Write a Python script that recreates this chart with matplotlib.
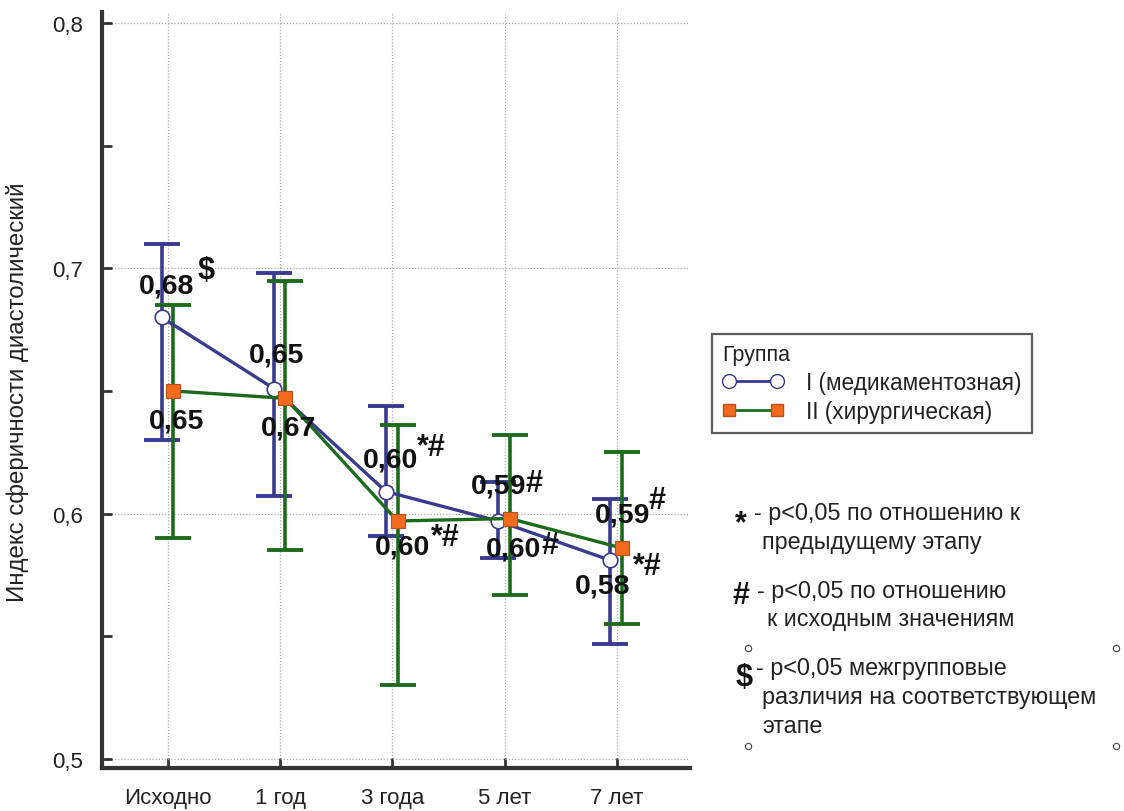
import matplotlib
matplotlib.use("Agg")
import matplotlib.pyplot as plt
from matplotlib.lines import Line2D
import numpy as np

plt.rcParams['font.family'] = ['Liberation Sans', 'DejaVu Sans']

# ---------------- data ----------------
categories = ["Исходно", "1 год", "3 года", "5 лет", "7 лет"]
y_ticks = [0.5, 0.6, 0.7, 0.8]
y_ticklabels = ["0,5", "0,6", "0,7", "0,8"]

g1_mean = [0.680, 0.651, 0.609, 0.597, 0.581]
g1_low = [0.630, 0.607, 0.591, 0.582, 0.547]
g1_high = [0.710, 0.698, 0.644, 0.613, 0.606]

g2_mean = [0.650, 0.647, 0.597, 0.598, 0.586]
g2_low = [0.590, 0.585, 0.530, 0.567, 0.555]
g2_high = [0.685, 0.695, 0.636, 0.632, 0.625]

g1_labels = ["0,68", "0,65", "0,60", "0,59", "0,58"]
g1_marks = ["\\$", "", "*#", "#", "*#"]
g2_labels = ["0,65", "0,67", "0,60", "0,60", "0,59"]
g2_marks = ["", "", "*#", "#", "#"]

group_names = ["I (медикаментозная)", "II (хирургическая)"]
legend_title = "Группа"
ylabel = "Индекс сферичности диастолический"

# ---------------- style ----------------
BLUE = "#3a3a8e"
GREEN = "#1c6b1c"
ORANGE = "#f26a1e"
ORANGE_EDGE = "#b8501a"
W, H = 1124, 812

fig = plt.figure(figsize=(W / 100, H / 100), dpi=100)
ax = fig.add_axes([102 / W, 1 - 769 / H, (690 - 102) / W, (769 - 13) / H])

x = np.arange(len(categories))
x1 = x - 0.058
x2 = x + 0.045

m1 = np.array(g1_mean); m2 = np.array(g2_mean)
e1 = [m1 - np.array(g1_low), np.array(g1_high) - m1]
e2 = [m2 - np.array(g2_low), np.array(g2_high) - m2]

ax.errorbar(x1, m1, yerr=e1, fmt='none', ecolor=BLUE, elinewidth=2.6,
            capsize=13, capthick=2.8, zorder=3)
ax.errorbar(x2, m2, yerr=e2, fmt='none', ecolor=GREEN, elinewidth=2.6,
            capsize=13, capthick=2.8, zorder=3)
ax.plot(x1, m1, color=BLUE, lw=2.4, marker='o', ms=10.5, mfc='white',
        mec=BLUE, mew=1.2, zorder=4)
ax.plot(x2, m2, color=GREEN, lw=2.4, marker='s', ms=9.5, mfc=ORANGE,
        mec=ORANGE_EDGE, mew=0.8, zorder=5)

ax.set_xlim(-0.591, 4.654)
ax.set_ylim(0.4963, 0.8045)
ax.set_xticks(x, labels=categories)
ax.set_yticks(y_ticks, labels=y_ticklabels)
ax.set_yticks([0.55, 0.65, 0.75], minor=True)

for s in ['top', 'right']:
    ax.spines[s].set_visible(False)
for s in ['left', 'bottom']:
    ax.spines[s].set_linewidth(3)
    ax.spines[s].set_color('#333333')

ax.tick_params(axis='both', which='both', direction='in', width=2,
               color='#333333', labelcolor='#222222', labelsize=16)
ax.tick_params(axis='x', length=7, pad=14)
ax.tick_params(axis='y', which='major', length=7, pad=14)
ax.tick_params(axis='y', which='minor', length=7)
ax.grid(True, which='major', linestyle=(0, (1, 1.5)), color='#aaaaaa', lw=0.9)
ax.set_axisbelow(True)

fig.text(18 / W, 1 - 392 / H, ylabel, rotation=90, ha='center', va='center',
         fontsize=17.3, color='#222222')

# value labels (offsets in pixels relative to the markers)
lab_kw = dict(textcoords='offset pixels', ha='center', va='center',
              fontsize=20.5, fontweight='bold', color='#111111', zorder=6)
mark_kw = dict(lab_kw, fontsize=22)
g1_lab_off = [(4.5, 32), (2.8, 34), (5, 32), (0, 35), (-8, -25)]
g1_mark_off = [(44, 47), None, (45, 45), (36, 38), (37, -6)]
g2_lab_off = [(3.4, -30), (3, -29), (4.5, -26), (3.4, -30), (1.3, 33)]
g2_mark_off = [None, None, (48, -16), (40, -26), (35, 48)]

for i in range(len(categories)):
    ax.annotate(g1_labels[i], (x1[i], m1[i]), xytext=g1_lab_off[i], **lab_kw)
    if g1_marks[i]:
        ax.annotate(g1_marks[i], (x1[i], m1[i]), xytext=g1_mark_off[i], **mark_kw)
    ax.annotate(g2_labels[i], (x2[i], m2[i]), xytext=g2_lab_off[i], **lab_kw)
    if g2_marks[i]:
        ax.annotate(g2_marks[i], (x2[i], m2[i]), xytext=g2_mark_off[i], **mark_kw)

# legend
h1 = Line2D([], [], color=BLUE, lw=2, marker='o', mfc='white', mec=BLUE, ms=10)
h2 = Line2D([], [], color=GREEN, lw=2, marker='s', mfc=ORANGE, mec=ORANGE_EDGE, ms=9)
leg = fig.legend([h1, h2], group_names, title=legend_title, loc='upper left',
                 bbox_to_anchor=(712 / W, 1 - 335 / H), numpoints=2,
                 handlelength=2.7, handletextpad=1.0, frameon=True,
                 fancybox=False, edgecolor='#333333', fontsize=16.3,
                 title_fontsize=15.5, borderpad=0.45, labelspacing=0.25,
                 borderaxespad=0)
leg._legend_box.align = 'left'
leg.get_frame().set_linewidth(1.6)
for t in leg.get_texts():
    t.set_color('#222222')
leg.get_title().set_color('#222222')

# notes
def ftext(px, py, s, **kw):
    fig.text(px / W, 1 - py / H, s, va='center', **kw)

note_kw = dict(fontsize=16.8, color='#222222')
sym_kw = dict(fontsize=22, fontweight='bold', color='#111111', ha='center')
ftext(741, 524, "*", **sym_kw)
ftext(754, 514, "- p<0,05 по отношению к", **note_kw)
ftext(762, 542, "предыдущему этапу", **note_kw)
ftext(741, 596, "#", **sym_kw)
ftext(757, 592, "- p<0,05 по отношению", **note_kw)
ftext(767, 620, "к исходным значениям", **note_kw)
ftext(744, 678, "\\$", **sym_kw)
ftext(756, 669, "- p<0,05 межгрупповые", **note_kw)
ftext(762, 698, "различия на соответствующем", **note_kw)
ftext(762, 727, "этапе", **note_kw)

for (px, py) in [(748, 649), (1116, 649), (748, 747), (1116, 747)]:
    fig.add_artist(Line2D([px / W], [1 - py / H], marker='o', ms=4.5,
                          mfc='white', mec='#555555', mew=0.9,
                          transform=fig.transFigure))

fig.savefig("out.png", dpi=100)
